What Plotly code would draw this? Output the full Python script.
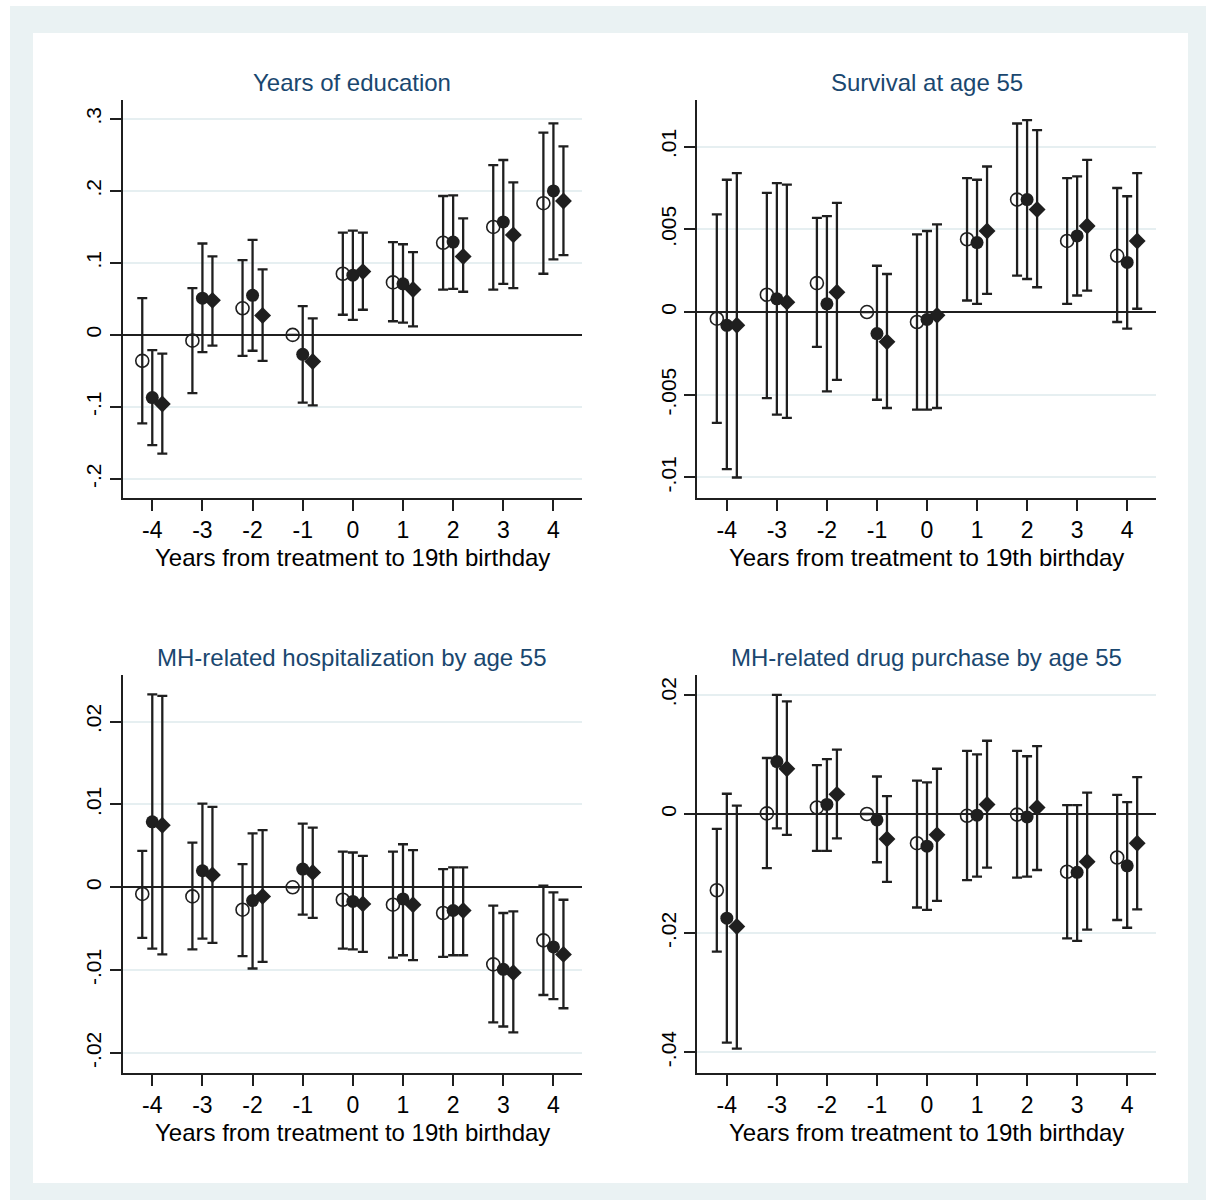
import plotly.graph_objects as go

years = [-4, -3, -2, -1, 0, 1, 2, 3, 4]
x_ticktext = ["-4", "-3", "-2", "-1", "0", "1", "2", "3", "4"]
x_title = "Years from treatment to 19th birthday"

panel_titles = ["Years of education", "Survival at age 55",
                "MH-related hospitalization by age 55", "MH-related drug purchase by age 55"]

# ---- Panel 1: Years of education
edu_c_est = [-0.036, -0.008, 0.037, 0.0, 0.085, 0.073, 0.128, 0.150, 0.183]
edu_c_lo = [-0.123, -0.081, -0.029, None, 0.028, 0.019, 0.063, 0.063, 0.085]
edu_c_hi = [0.051, 0.065, 0.104, None, 0.142, 0.129, 0.193, 0.236, 0.281]
edu_f_est = [-0.087, 0.051, 0.055, -0.027, 0.083, 0.071, 0.129, 0.157, 0.200]
edu_f_lo = [-0.153, -0.024, -0.022, -0.094, 0.021, 0.017, 0.064, 0.071, 0.105]
edu_f_hi = [-0.021, 0.127, 0.132, 0.040, 0.145, 0.126, 0.194, 0.243, 0.294]
edu_d_est = [-0.096, 0.048, 0.027, -0.037, 0.088, 0.063, 0.109, 0.139, 0.186]
edu_d_lo = [-0.165, -0.015, -0.036, -0.098, 0.035, 0.012, 0.060, 0.065, 0.111]
edu_d_hi = [-0.026, 0.109, 0.091, 0.023, 0.142, 0.115, 0.162, 0.212, 0.262]
edu_yticks = [-0.2, -0.1, 0, 0.1, 0.2, 0.3]
edu_yticktext = ["-.2", "-.1", "0", ".1", ".2", ".3"]

# ---- Panel 2: Survival at age 55
sur_c_est = [-0.0004, 0.00105, 0.00175, 0.0, -0.0006, 0.0044, 0.0068, 0.0043, 0.0034]
sur_c_lo = [-0.0067, -0.0052, -0.0021, None, -0.0059, 0.0007, 0.0022, 0.0005, -0.0006]
sur_c_hi = [0.0059, 0.0072, 0.0057, None, 0.0047, 0.0081, 0.0114, 0.0081, 0.0075]
sur_f_est = [-0.0008, 0.0008, 0.0005, -0.0013, -0.00045, 0.0042, 0.0068, 0.0046, 0.0030]
sur_f_lo = [-0.0095, -0.0062, -0.0048, -0.0053, -0.0059, 0.0005, 0.0020, 0.0010, -0.0010]
sur_f_hi = [0.0080, 0.0078, 0.0058, 0.0028, 0.0049, 0.0080, 0.0116, 0.0082, 0.0070]
sur_d_est = [-0.0008, 0.0006, 0.0012, -0.0018, -0.0002, 0.0049, 0.0062, 0.0052, 0.0043]
sur_d_lo = [-0.0100, -0.0064, -0.0041, -0.0058, -0.0058, 0.0011, 0.0015, 0.0013, 0.0002]
sur_d_hi = [0.0084, 0.0077, 0.0066, 0.0023, 0.0053, 0.0088, 0.0110, 0.0092, 0.0084]
sur_yticks = [-0.01, -0.005, 0, 0.005, 0.01]
sur_yticktext = ["-.01", "-.005", "0", ".005", ".01"]

# ---- Panel 3: MH-related hospitalization by age 55
hos_c_est = [-0.0008, -0.0011, -0.0027, 0.0, -0.0015, -0.0021, -0.0031, -0.0093, -0.0064]
hos_c_lo = [-0.0061, -0.0075, -0.0083, None, -0.0074, -0.0085, -0.0084, -0.0163, -0.0130]
hos_c_hi = [0.0044, 0.0054, 0.0028, None, 0.0043, 0.0043, 0.0022, -0.0022, 0.0002]
hos_f_est = [0.0079, 0.0020, -0.0016, 0.0022, -0.0017, -0.0014, -0.0028, -0.0099, -0.0072]
hos_f_lo = [-0.0074, -0.0062, -0.0098, -0.0033, -0.0075, -0.0082, -0.0082, -0.0168, -0.0135]
hos_f_hi = [0.0233, 0.0101, 0.0065, 0.0077, 0.0042, 0.0052, 0.0024, -0.0031, -0.0006]
hos_d_est = [0.0075, 0.0015, -0.0011, 0.0018, -0.0020, -0.0021, -0.0028, -0.0103, -0.0081]
hos_d_lo = [-0.0081, -0.0067, -0.0090, -0.0037, -0.0078, -0.0088, -0.0082, -0.0175, -0.0146]
hos_d_hi = [0.0231, 0.0097, 0.0069, 0.0072, 0.0038, 0.0045, 0.0024, -0.0029, -0.0015]
hos_yticks = [-0.02, -0.01, 0, 0.01, 0.02]
hos_yticktext = ["-.02", "-.01", "0", ".01", ".02"]

# ---- Panel 4: MH-related drug purchase by age 55
drg_c_est = [-0.0128, 0.0001, 0.0011, 0.0, -0.0049, -0.0003, -0.0001, -0.0097, -0.0073]
drg_c_lo = [-0.0231, -0.0091, -0.0062, None, -0.0157, -0.0111, -0.0107, -0.0209, -0.0178]
drg_c_hi = [-0.0025, 0.0094, 0.0082, None, 0.0056, 0.0106, 0.0106, 0.0015, 0.0032]
drg_f_est = [-0.0175, 0.0088, 0.0016, -0.0010, -0.0054, -0.0002, -0.0005, -0.0098, -0.0087]
drg_f_lo = [-0.0384, -0.0024, -0.0062, -0.0081, -0.0161, -0.0105, -0.0105, -0.0213, -0.0191]
drg_f_hi = [0.0034, 0.0200, 0.0092, 0.0063, 0.0053, 0.0100, 0.0097, 0.0015, 0.0020]
drg_d_est = [-0.0189, 0.0076, 0.0033, -0.0042, -0.0035, 0.0016, 0.0011, -0.0080, -0.0049]
drg_d_lo = [-0.0394, -0.0035, -0.0041, -0.0114, -0.0146, -0.0090, -0.0094, -0.0194, -0.0160]
drg_d_hi = [0.0014, 0.0189, 0.0108, 0.0030, 0.0076, 0.0123, 0.0114, 0.0036, 0.0062]
drg_yticks = [-0.04, -0.02, 0, 0.02]
drg_yticktext = ["-.04", "-.02", "0", ".02"]

W, H = 1206, 1200
FONT = "Liberation Sans, Arial, sans-serif"
INK = "#1f1f1f"
GRID = "#E6EFF1"
TITLE_COL = "#1A476F"

panels = [
    dict(series=[(edu_c_est, edu_c_lo, edu_c_hi), (edu_f_est, edu_f_lo, edu_f_hi), (edu_d_est, edu_d_lo, edu_d_hi)],
         yticks=edu_yticks, ytext=edu_yticktext, yrange=[-0.2259, 0.3264],
         px=(122.7, 582.0), py=(100.0, 497.5)),
    dict(series=[(sur_c_est, sur_c_lo, sur_c_hi), (sur_f_est, sur_f_lo, sur_f_hi), (sur_d_est, sur_d_lo, sur_d_hi)],
         yticks=sur_yticks, ytext=sur_yticktext, yrange=[-0.01121, 0.01282],
         px=(697.3, 1155.7), py=(100.0, 497.5)),
    dict(series=[(hos_c_est, hos_c_lo, hos_c_hi), (hos_f_est, hos_f_lo, hos_f_hi), (hos_d_est, hos_d_lo, hos_d_hi)],
         yticks=hos_yticks, ytext=hos_yticktext, yrange=[-0.02238, 0.02563],
         px=(122.7, 582.0), py=(675.0, 1072.7)),
    dict(series=[(drg_c_est, drg_c_lo, drg_c_hi), (drg_f_est, drg_f_lo, drg_f_hi), (drg_d_est, drg_d_lo, drg_d_hi)],
         yticks=drg_yticks, ytext=drg_yticktext, yrange=[-0.04344, 0.02334],
         px=(697.3, 1155.7), py=(675.0, 1072.7)),
]

offsets = [-0.2, 0.0, 0.2]
marker_styles = [
    dict(symbol="circle-open", size=13, color=INK, line=dict(color=INK, width=1.6)),
    dict(symbol="circle", size=13, color=INK, line=dict(color=INK, width=0)),
    dict(symbol="diamond", size=13, color=INK, line=dict(color=INK, width=0)),
]
series_names = ["Specification 1", "Specification 2", "Specification 3"]

fig = go.Figure()
annotations = []
for i, p in enumerate(panels):
    k = "" if i == 0 else str(i + 1)
    xa, ya = "x" + k, "y" + k
    for j, (est, lo, hi) in enumerate(p["series"]):
        plus = [None if h is None else h - e for e, h in zip(est, hi)]
        minus = [None if l is None else e - l for e, l in zip(est, lo)]
        fig.add_trace(go.Scatter(
            x=[yr + offsets[j] for yr in years], y=est, mode="markers",
            name=series_names[j], showlegend=False,
            marker=marker_styles[j],
            error_y=dict(type="data", symmetric=False, array=plus, arrayminus=minus,
                         color=INK, thickness=2.3, width=5),
            xaxis=xa, yaxis=ya, cliponaxis=False,
        ))
    x0, x1 = p["px"]
    y0, y1 = p["py"]
    fig.layout["xaxis" + k] = dict(
        domain=[x0 / W, x1 / W], anchor=ya, range=[-4.59, 4.57],
        tickmode="array", tickvals=years, ticktext=x_ticktext,
        ticks="outside", ticklen=11, tickwidth=2, tickcolor=INK,
        showline=True, linecolor=INK, linewidth=2, showgrid=False, zeroline=False,
        tickfont=dict(family=FONT, size=23, color="#000"), fixedrange=True,
    )
    fig.layout["yaxis" + k] = dict(
        domain=[1 - y1 / H, 1 - y0 / H], anchor=xa, range=p["yrange"],
        tickmode="array", tickvals=p["yticks"], ticktext=p["ytext"], tickangle=-90,
        ticks="outside", ticklen=11, tickwidth=2, tickcolor=INK,
        showline=True, linecolor=INK, linewidth=2,
        showgrid=True, gridcolor=GRID, gridwidth=1.5,
        zeroline=True, zerolinecolor=INK, zerolinewidth=2,
        tickfont=dict(family=FONT, size=21, color="#000"), fixedrange=True,
    )
    cx = (x0 + x1) / 2 / W
    annotations.append(dict(text=panel_titles[i], x=cx, y=1 - (y0 - 18) / H, xref="paper", yref="paper",
                            xanchor="center", yanchor="middle", showarrow=False,
                            font=dict(family=FONT, size=24, color=TITLE_COL)))
    annotations.append(dict(text=x_title, x=cx, y=1 - (y1 + 60) / H, xref="paper", yref="paper",
                            xanchor="center", yanchor="middle", showarrow=False,
                            font=dict(family=FONT, size=24, color="#000")))

shapes = [
    dict(type="rect", xref="paper", yref="paper", x0=10 / W, x1=1.0, y0=0.0, y1=1 - 6 / H,
         fillcolor="#EAF2F3", line=dict(width=0), layer="below"),
    dict(type="rect", xref="paper", yref="paper", x0=33 / W, x1=1188 / W, y0=1 - 1183 / H, y1=1 - 33 / H,
         fillcolor="#FFFFFF", line=dict(width=0), layer="below"),
]

fig.update_layout(
    width=W, height=H, margin=dict(l=0, r=0, t=0, b=0),
    paper_bgcolor="#FFFFFF", plot_bgcolor="rgba(0,0,0,0)",
    annotations=annotations, shapes=shapes, showlegend=False,
    font=dict(family=FONT, color="#000"),
)

fig.write_html("out.html", config={"displayModeBar": False},
               post_script="document.body.style.margin='0';document.body.style.overflow='hidden';")
